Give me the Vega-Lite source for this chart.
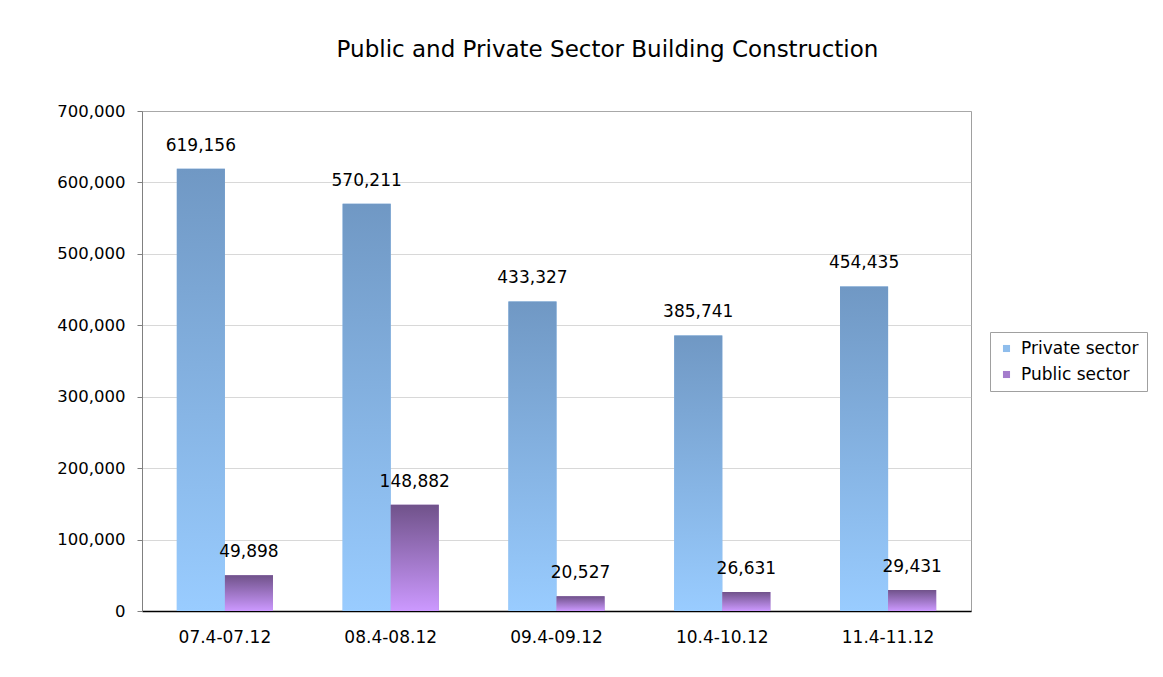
{
  "$schema": "https://vega.github.io/schema/vega-lite/v6.json",
  "width": 829,
  "height": 500,
  "padding": {"left": 56, "top": 39, "right": 5, "bottom": 5},
  "background": "white",
  "config": {
    "font": "DejaVu Sans",
    "view": {"stroke": "#a0a0a0", "strokeWidth": 1}
  },
  "title": {
    "text": "Public and Private Sector Building Construction",
    "fontSize": 23,
    "fontWeight": "normal",
    "color": "#000000",
    "anchor": "middle",
    "dx": 51,
    "offset": 41
  },
  "data": {
    "values": [
      {"period": "07.4-07.12", "sector": "Private sector", "value": 619156},
      {"period": "07.4-07.12", "sector": "Public sector", "value": 49898},
      {"period": "08.4-08.12", "sector": "Private sector", "value": 570211},
      {"period": "08.4-08.12", "sector": "Public sector", "value": 148882},
      {"period": "09.4-09.12", "sector": "Private sector", "value": 433327},
      {"period": "09.4-09.12", "sector": "Public sector", "value": 20527},
      {"period": "10.4-10.12", "sector": "Private sector", "value": 385741},
      {"period": "10.4-10.12", "sector": "Public sector", "value": 26631},
      {"period": "11.4-11.12", "sector": "Private sector", "value": 454435},
      {"period": "11.4-11.12", "sector": "Public sector", "value": 29431}
    ]
  },
  "encoding": {
    "x": {
      "field": "period",
      "type": "nominal",
      "sort": null,
      "scale": {"paddingInner": 0.42, "paddingOuter": 0.21},
      "axis": {
        "title": null,
        "labelAngle": 0,
        "labelFontSize": 17,
        "labelColor": "#000000",
        "labelPadding": 18,
        "ticks": false,
        "domainColor": "#000000",
        "domainWidth": 1.5
      }
    },
    "xOffset": {"field": "sector", "type": "nominal", "sort": ["Private sector", "Public sector"]},
    "y": {
      "field": "value",
      "type": "quantitative",
      "scale": {"domain": [0, 700000]},
      "axis": {
        "title": null,
        "values": [0, 100000, 200000, 300000, 400000, 500000, 600000, 700000],
        "format": ",d",
        "labelFontSize": 16.5,
        "labelColor": "#000000",
        "labelPadding": 12,
        "tickSize": 5,
        "tickColor": "#808080",
        "domainColor": "#808080",
        "gridColor": "#b0b0b0",
        "gridDash": [1, 1]
      }
    }
  },
  "layer": [
    {
      "mark": {"type": "bar"},
      "encoding": {
        "color": {
          "field": "sector",
          "type": "nominal",
          "scale": {"domain": ["Private sector", "Public sector"], "range": ["#8fbdec", "#a47ccc"]},
          "legend": {
            "title": null,
            "orient": "none",
            "legendX": 848,
            "legendY": 221,
            "symbolType": "square",
            "symbolSize": 50,
            "symbolStrokeWidth": 0,
            "labelFontSize": 17,
            "labelColor": "#000000",
            "rowPadding": 8,
            "padding": 8,
            "strokeColor": "#a0a0a0",
            "fillColor": "#ffffff",
            "labelOffset": 6
          }
        }
      }
    },
    {
      "mark": {"type": "bar"},
      "encoding": {
        "fill": {
          "condition": {
            "test": "datum.sector === 'Private sector'",
            "value": {"gradient": "linear", "x1": 0, "y1": 0, "x2": 0, "y2": 1, "stops": [{"offset": 0, "color": "#7098c4"}, {"offset": 1, "color": "#99ccff"}]}
          },
          "value": {"gradient": "linear", "x1": 0, "y1": 0, "x2": 0, "y2": 1, "stops": [{"offset": 0, "color": "#70528a"}, {"offset": 1, "color": "#cc99ff"}]}
        }
      }
    },
    {
      "mark": {"type": "text", "baseline": "bottom", "dy": -14, "fontSize": 17, "color": "#000000"},
      "encoding": {
        "text": {"field": "value", "type": "quantitative", "format": ",d"}
      }
    }
  ]
}
